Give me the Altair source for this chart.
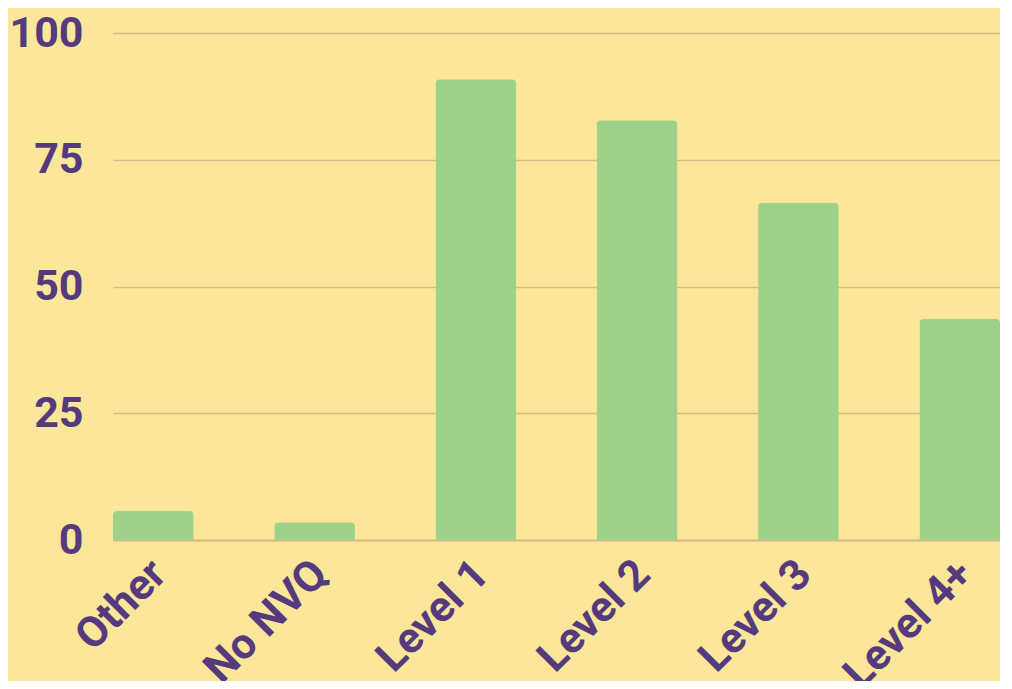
import altair as alt
import pandas as pd

categories = ["Other", "No NVQ", "Level 1", "Level 2", "Level 3", "Level 4+"]
values = [5.7, 3.5, 90.9, 82.8, 66.5, 43.6]

df = pd.DataFrame({"category": categories, "value": values})

PURPLE = "#553A7E"
GRID = "#D8BC85"
BG = "#FCE699"
GREEN = "#9ED189"

chart = alt.Chart(df).mark_bar(
    color=GREEN, cornerRadiusTopLeft=4, cornerRadiusTopRight=4
).encode(
    x=alt.X("category:N", sort=categories, title=None,
            scale=alt.Scale(paddingInner=0.5, paddingOuter=0),
            axis=alt.Axis(labelAngle=-45, labelAlign="right", labelBaseline="middle",
                          labelPadding=27, labelOffset=6, ticks=False, domain=True,
                          domainColor=GRID, domainWidth=2, labelFont="Roboto",
                          labelFontWeight="bold", labelFontSize=43, labelColor=PURPLE)),
    y=alt.Y("value:Q", title=None,
            scale=alt.Scale(domain=[0, 100], nice=False),
            axis=alt.Axis(values=[0, 25, 50, 75, 100], ticks=False, domain=False,
                          gridColor=GRID, gridWidth=1.5, labelPadding=30,
                          labelFont="Roboto", labelFontWeight="bold",
                          labelFontSize=43, labelColor=PURPLE)),
).properties(
    width=887, height=507, background=BG,
    padding={"left": 105, "top": 25, "right": 0, "bottom": 141},
    autosize=alt.AutoSizeParams(type="none"),
).configure_view(stroke=None)

chart.save("out.html", embed_options={"renderer": "svg", "actions": False})
